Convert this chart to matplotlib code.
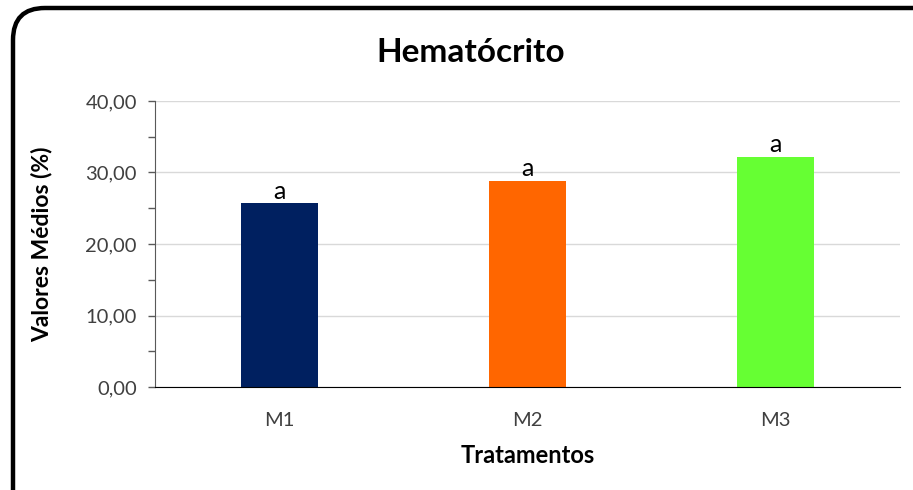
import numpy as np
import matplotlib
matplotlib.use('Agg')
import matplotlib.pyplot as plt
from matplotlib.patches import FancyBboxPatch
from matplotlib.ticker import MultipleLocator, FuncFormatter

tratamentos = ['M1', 'M2', 'M3']
valores = [25.7, 28.8, 32.2]
letras = ['a', 'a', 'a']
cores = ['#002060', '#FF6600', '#66FF33']

plt.rcParams['font.family'] = ['Lato', 'DejaVu Sans']

fig = plt.figure(figsize=(9.13, 4.9), dpi=100)

# rounded frame around the chart (cut at right and bottom like the screenshot)
frame = FancyBboxPatch((13 / 913, -0.1), 1.05, 0.1 + 1 - 8 / 490,
                       boxstyle='round,pad=0,rounding_size=0.035',
                       transform=fig.transFigure, fill=False,
                       edgecolor='black', linewidth=3.2,
                       mutation_aspect=913 / 490)
fig.patches.append(frame)

ax = fig.add_axes([155 / 913, 1 - 387 / 490, 745 / 913, 286 / 490])
x = np.arange(len(tratamentos))
ax.bar(x, valores, width=0.31, color=cores, zorder=3)

for xi, v, l in zip(x, valores, letras):
    ax.text(xi, v + 0.1, l, ha='center', va='bottom', fontsize=18, color='black')

ax.set_xlim(-0.5, 2.5)
ax.set_ylim(0, 40)
ax.yaxis.set_major_locator(MultipleLocator(10))
ax.yaxis.set_minor_locator(MultipleLocator(5))
ax.yaxis.set_major_formatter(FuncFormatter(lambda v, p: ('%.2f' % v).replace('.', ',')))
ax.set_xticks(x)
ax.set_xticklabels(tratamentos)
ax.tick_params(axis='x', length=0, pad=18, labelsize=14.5, colors='#404040')
ax.tick_params(axis='y', which='both', direction='out', length=5, width=1,
               color='#595959', labelsize=14.5, labelcolor='#404040', pad=8)
ax.grid(axis='y', color='#d9d9d9', linewidth=1, zorder=0)

for s in ['top', 'right']:
    ax.spines[s].set_visible(False)
ax.spines['left'].set_color('#595959')
ax.spines['bottom'].set_color('black')
ax.spines['bottom'].set_zorder(4)

ax.set_ylabel('Valores Médios (%)', fontsize=16.5, fontweight='bold')
ax.yaxis.set_label_coords(-0.138, 0.5)
ax.set_xlabel('Tratamentos', fontsize=17, fontweight='bold')
ax.xaxis.set_label_coords(0.5, -0.20)
fig.text(471 / 913, 1 - 52 / 490, 'Hematócrito', ha='center', va='center',
         fontsize=24, fontweight='bold')

fig.savefig('out.png', dpi=100)
